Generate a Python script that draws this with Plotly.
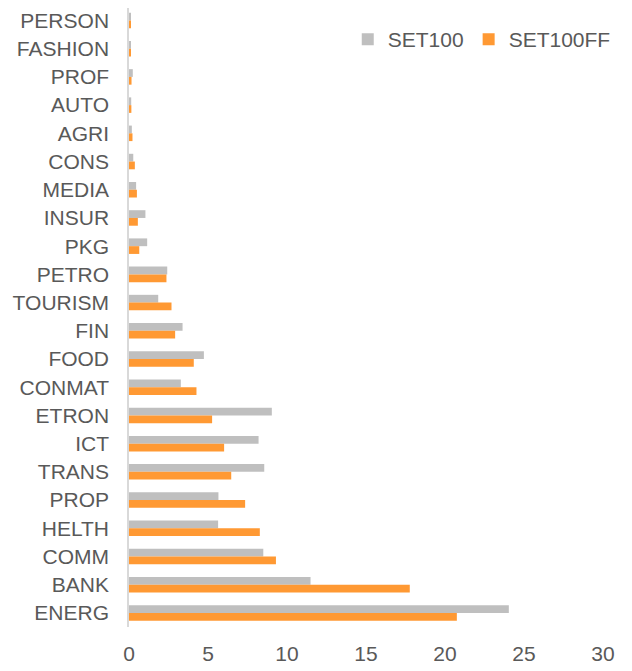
import plotly.graph_objects as go

categories = ["PERSON", "FASHION", "PROF", "AUTO", "AGRI", "CONS", "MEDIA", "INSUR",
              "PKG", "PETRO", "TOURISM", "FIN", "FOOD", "CONMAT", "ETRON", "ICT",
              "TRANS", "PROP", "HELTH", "COMM", "BANK", "ENERG"]
set100 = [0.12, 0.12, 0.24, 0.14, 0.18, 0.27, 0.45, 1.04,
          1.15, 2.42, 1.85, 3.39, 4.74, 3.28, 9.04, 8.2,
          8.56, 5.66, 5.64, 8.5, 11.49, 24.04]
set100ff = [0.1, 0.1, 0.16, 0.15, 0.22, 0.37, 0.5, 0.56,
            0.65, 2.37, 2.69, 2.92, 4.1, 4.27, 5.26, 6.02,
            6.47, 7.35, 8.28, 9.3, 17.77, 20.75]
x_ticks = [0, 5, 10, 15, 20, 25, 30]

font_color = "#595959"
fig = go.Figure()
fig.add_trace(go.Bar(y=categories, x=set100, name="SET100", orientation="h",
                     marker=dict(color="#BFBFBF", line=dict(width=0))))
fig.add_trace(go.Bar(y=categories, x=set100ff, name="SET100FF", orientation="h",
                     marker=dict(color="#FF9933", line=dict(width=0))))

fig.update_layout(
    width=632, height=671,
    barmode="group", bargap=0.45, bargroupgap=0,
    plot_bgcolor="white", paper_bgcolor="white",
    font=dict(family="Liberation Sans, Arial, sans-serif", size=21, color=font_color),
    margin=dict(l=121, r=37, t=0, b=52, autoexpand=False),
    legend=dict(orientation="h", x=0.4615, y=0.982, xanchor="left", yanchor="top",
                font=dict(size=21, color=font_color), bgcolor="rgba(0,0,0,0)",
                traceorder="normal"),
    xaxis=dict(range=[0, 30], tickvals=x_ticks, showgrid=False, zeroline=False,
               showline=False, ticks="", ticklabelstandoff=12, automargin=False,
               fixedrange=True),
    yaxis=dict(range=[21.5, -0.443], showgrid=False, zeroline=False, showline=True,
               linecolor="#D9D9D9", linewidth=1.5, ticks="", ticklabelstandoff=14,
               automargin=False, categoryorder="array", categoryarray=categories),
)

fig.write_html("out.html")
